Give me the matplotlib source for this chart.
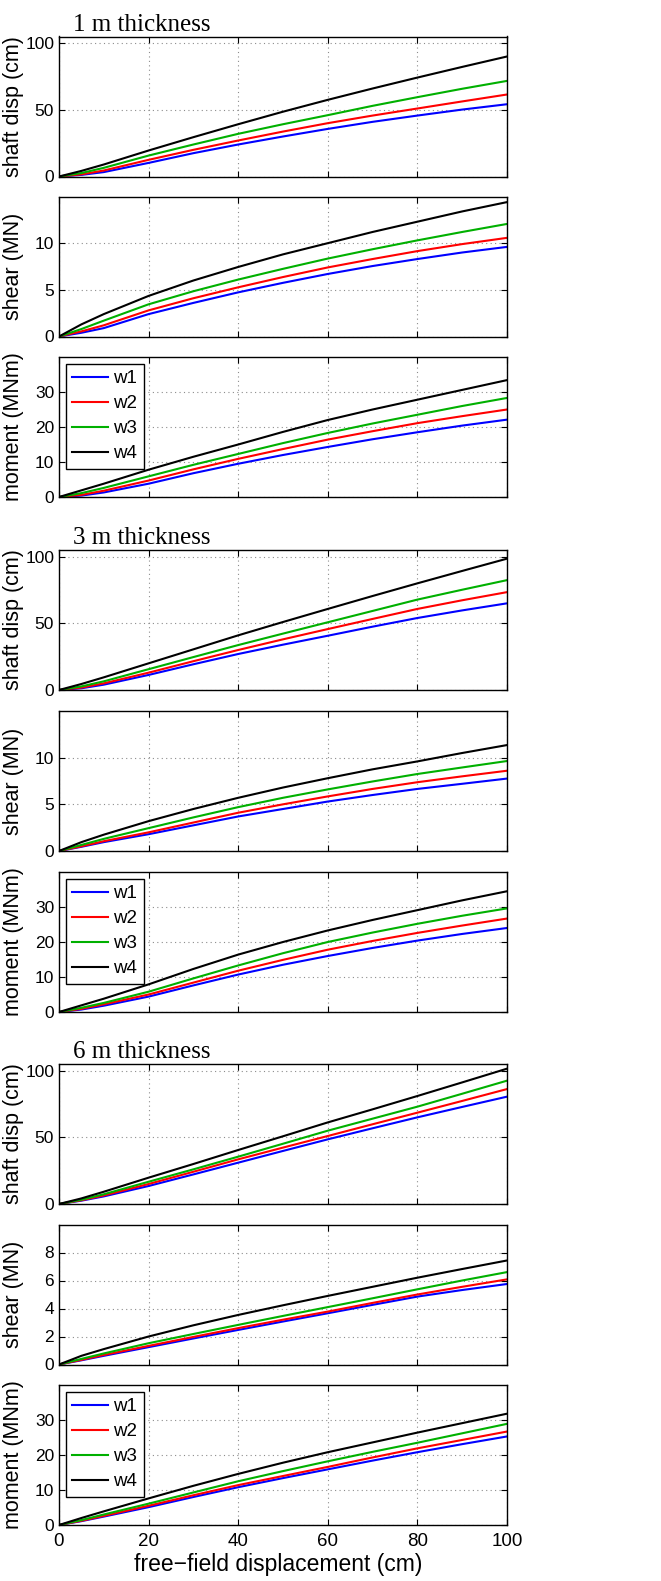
import numpy as np
import matplotlib
matplotlib.use("Agg")
import matplotlib.pyplot as plt

# free-field displacement (cm)
x = [0, 5, 10, 20, 30, 40, 50, 60, 70, 80, 90, 100]

labels = ['w1', 'w2', 'w3', 'w4']
colors = ['#0000ff', '#ff0000', '#00b000', '#000000']
titles = ['1 m thickness', '3 m thickness', '6 m thickness']

# 1 m thickness
disp_1m = [
    [0, 1.2, 3.3, 10.2, 17.5, 24, 30, 35.7, 41, 45.7, 50.2, 54.2],
    [0, 1.6, 4.5, 12.5, 20, 27, 33.7, 40, 45.7, 51, 56.3, 61.5],
    [0, 2.6, 6.5, 15.7, 24, 32, 39.2, 46, 53, 59.5, 65.8, 71.7],
    [0, 4.2, 9, 19.5, 29.5, 39.2, 48.6, 57.5, 66, 74.2, 82.2, 90],
]
shear_1m = [
    [0, 0.4, 0.9, 2.4, 3.6, 4.73, 5.75, 6.7, 7.55, 8.3, 9.0, 9.6],
    [0, 0.55, 1.2, 2.8, 4.1, 5.27, 6.37, 7.4, 8.3, 9.15, 9.9, 10.57],
    [0, 0.8, 1.7, 3.45, 4.85, 6.1, 7.25, 8.35, 9.35, 10.3, 11.2, 12.06],
    [0, 1.3, 2.4, 4.35, 6.0, 7.45, 8.8, 10.0, 11.2, 12.3, 13.4, 14.4],
]
moment_1m = [
    [0, 0.4, 1.3, 3.8, 6.8, 9.5, 12.0, 14.3, 16.5, 18.5, 20.4, 22.1],
    [0, 0.6, 1.8, 4.7, 7.9, 10.9, 13.7, 16.4, 18.8, 21.1, 23.1, 25.0],
    [0, 1.1, 2.6, 5.9, 9.2, 12.3, 15.4, 18.3, 21.0, 23.5, 26.0, 28.3],
    [0, 1.9, 3.8, 7.8, 11.5, 15.0, 18.6, 22.0, 25.0, 27.8, 30.6, 33.4],
]

# 3 m thickness
disp_3m = [
    [0, 1.3, 4.0, 11.3, 19.3, 27, 34, 40.7, 47.5, 54, 59.7, 65],
    [0, 1.8, 5.0, 13, 21.6, 30, 38, 45.7, 53.3, 60.8, 67.3, 73.4],
    [0, 2.7, 6.5, 15.6, 24.7, 33.7, 42.3, 50.8, 59.3, 67.8, 75.2, 82.4],
    [0, 4.5, 9.5, 20, 30.5, 41, 51, 60.8, 70.5, 80, 89.3, 98.5],
]
shear_3m = [
    [0, 0.45, 0.95, 1.8, 2.75, 3.7, 4.5, 5.3, 6.0, 6.65, 7.2, 7.76],
    [0, 0.5, 1.05, 2.0, 3.05, 4.1, 5.0, 5.85, 6.65, 7.37, 8.0, 8.6],
    [0, 0.65, 1.3, 2.45, 3.6, 4.7, 5.7, 6.6, 7.45, 8.25, 8.95, 9.64],
    [0, 0.95, 1.75, 3.2, 4.5, 5.7, 6.8, 7.8, 8.75, 9.6, 10.5, 11.35],
]
moment_3m = [
    [0, 0.7, 1.8, 4.4, 7.6, 10.7, 13.5, 16.0, 18.3, 20.4, 22.3, 24.0],
    [0, 0.9, 2.2, 5.0, 8.4, 11.8, 14.9, 17.8, 20.3, 22.6, 24.7, 26.7],
    [0, 1.2, 2.6, 5.8, 9.6, 13.3, 16.8, 20.0, 22.7, 25.2, 27.5, 29.6],
    [0, 1.9, 3.8, 7.9, 12.3, 16.4, 20.0, 23.3, 26.3, 29.1, 31.9, 34.5],
]

# 6 m thickness
disp_6m = [
    [0, 2.5, 5.7, 13.5, 22.2, 31, 39.8, 48.5, 56.8, 65, 72.8, 80.5],
    [0, 2.8, 6.4, 15, 24.2, 33.5, 42.3, 51, 59.8, 68.5, 77.3, 86.2],
    [0, 3.2, 7.3, 16.7, 26, 35.5, 45.2, 55, 64, 73, 82.7, 92.5],
    [0, 4.2, 9.2, 19.75, 30, 40.5, 50.8, 61.2, 71, 81, 91.2, 101.5],
]
shear_6m = [
    [0, 0.3, 0.62, 1.24, 1.86, 2.47, 3.07, 3.66, 4.26, 4.85, 5.32, 5.75],
    [0, 0.33, 0.68, 1.33, 1.97, 2.6, 3.2, 3.78, 4.4, 5.0, 5.55, 6.08],
    [0, 0.4, 0.79, 1.52, 2.18, 2.83, 3.47, 4.1, 4.73, 5.37, 6.0, 6.6],
    [0, 0.62, 1.1, 2.0, 2.8, 3.54, 4.23, 4.9, 5.55, 6.2, 6.82, 7.43],
]
moment_6m = [
    [0, 1.1, 2.4, 5.1, 8.0, 10.8, 13.4, 15.9, 18.4, 20.8, 23.1, 25.3],
    [0, 1.2, 2.6, 5.5, 8.5, 11.4, 14.0, 16.6, 19.3, 21.9, 24.3, 26.7],
    [0, 1.4, 3.0, 6.1, 9.3, 12.5, 15.4, 18.2, 20.9, 23.5, 26.2, 28.9],
    [0, 2.0, 3.9, 7.6, 11.2, 14.6, 17.8, 20.8, 23.6, 26.4, 29.1, 31.8],
]

plt.rcParams['font.family'] = ['Liberation Sans', 'DejaVu Sans']

W, H = 661, 1581
fig = plt.figure(figsize=(W / 100, H / 100), dpi=100)

# top pixel of each panel
tops = [36.5, 196.5, 357, 550, 711, 872, 1064, 1224.5, 1385]
left_px, width_px, height_px = 59, 448, 140

panels = [
    (disp_1m, 'shaft disp (cm)', 105, [0, 50, 100]),
    (shear_1m, 'shear (MN)', 15, [0, 5, 10]),
    (moment_1m, 'moment (MNm)', 40, [0, 10, 20, 30]),
    (disp_3m, 'shaft disp (cm)', 105, [0, 50, 100]),
    (shear_3m, 'shear (MN)', 15, [0, 5, 10]),
    (moment_3m, 'moment (MNm)', 40, [0, 10, 20, 30]),
    (disp_6m, 'shaft disp (cm)', 105, [0, 50, 100]),
    (shear_6m, 'shear (MN)', 10, [0, 2, 4, 6, 8]),
    (moment_6m, 'moment (MNm)', 40, [0, 10, 20, 30]),
]

for i, (data, ylab, ymax, yt) in enumerate(panels):
    ax = fig.add_axes([left_px / W, 1 - (tops[i] + height_px) / H,
                       width_px / W, height_px / H])
    for j in range(4):
        ax.plot(x, data[j], color=colors[j], lw=1.5, label=labels[j])
    ax.set_xlim(0, 100)
    ax.set_ylim(0, ymax)
    ax.set_xticks([0, 20, 40, 60, 80, 100])
    ax.set_yticks(yt)
    ax.grid(True, color='0.55', linestyle=(0, (1, 3)), lw=0.8)
    ax.tick_params(direction='in', top=True, right=True, length=4,
                   labelsize=12.5, pad=3.5)
    ax.tick_params(axis='x', pad=6, labelsize=13.5)
    for s in ax.spines.values():
        s.set_linewidth(1.0)
    ax.set_ylabel(ylab, fontsize=15.5)
    ax.yaxis.set_label_coords(-0.078, 0.5)
    if i % 3 == 0:
        ax.text(0.031, 1.042, titles[i // 3], transform=ax.transAxes,
                family=['Liberation Serif', 'DejaVu Serif'], fontsize=18,
                va='baseline', ha='left')
    if i % 3 == 2:
        leg = ax.legend(loc='upper left', fontsize=13.5, fancybox=False,
                        edgecolor='black', framealpha=1, borderaxespad=0.35,
                        handlelength=1.9, handletextpad=0.3,
                        labelspacing=0.42, borderpad=0.35)
        leg.get_frame().set_linewidth(1.0)
    if i == 8:
        ax.set_xlabel('free\u2212field displacement (cm)', fontsize=16.5)
        ax.xaxis.set_label_coords(0.49, -0.2)
    else:
        ax.set_xticklabels([])

fig.savefig('out.png', dpi=100)
